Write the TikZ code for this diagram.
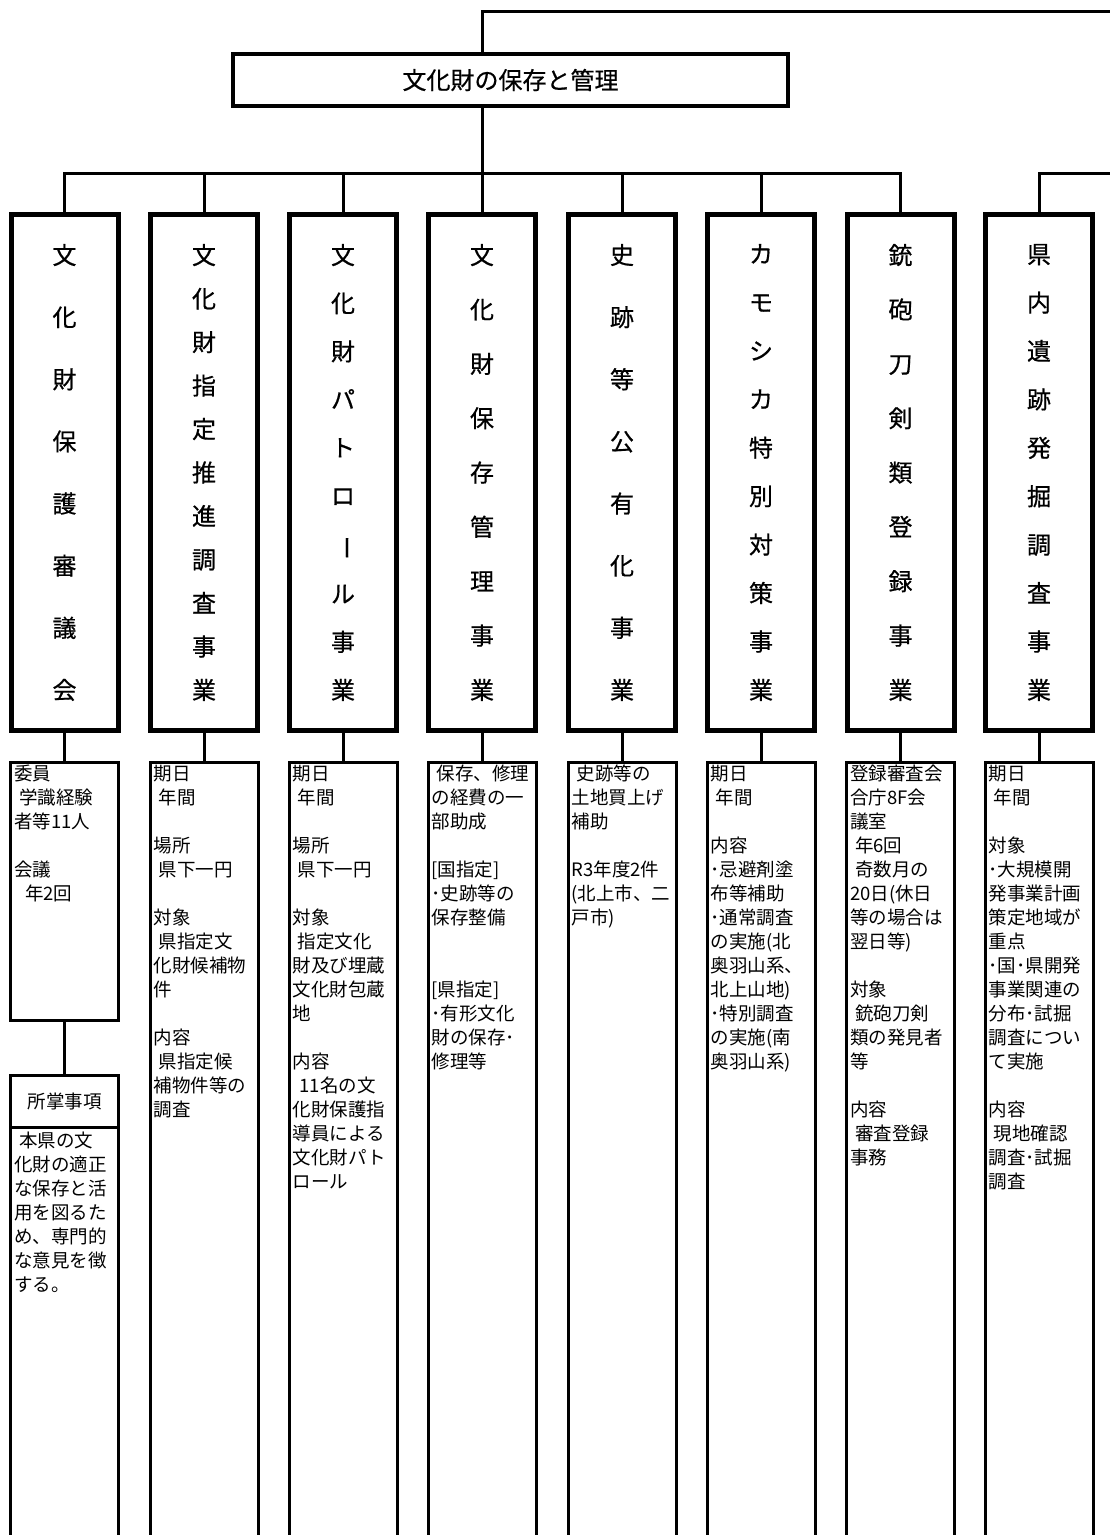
\documentclass[tikz,border=0pt]{standalone}
\usepackage{fontspec}
\setmainfont{Noto Sans CJK JP}
\newfontfamily\hdrfont{Noto Sans CJK JP}[FakeBold=0.6]
\usepackage{graphicx}
\newcommand\V{\par\vfill}
\newcommand\vcol[1]{\parbox[c][455pt][s]{34pt}{\centering #1}}
\newcommand\ind{\hspace*{5pt}}
\newcommand\chouon{\rotatebox[origin=c]{-90}{ー}}
\tikzset{
  conn/.style={line width=3pt},
  topbox/.style={draw, line width=4pt, minimum width=555pt, minimum height=52pt, inner sep=0pt, font=\hdrfont\fontsize{24}{28}\selectfont},
  hdrbox/.style={draw, line width=5pt, minimum width=107pt, minimum height=516pt, inner sep=0pt, font=\hdrfont\fontsize{24}{24}\selectfont},
  detbox/.style={draw, line width=3pt, minimum width=108pt, inner sep=0pt},
  dettext/.style={anchor=north west, align=left, inner sep=0pt, font=\fontsize{18.5}{24}\selectfont},
}
\begin{document}
\begin{tikzpicture}[x=1pt,y=-1pt]
\useasboundingbox (0,0) rectangle (1110,1535);
\clip (0,0) rectangle (1110,1535);
% top box
\node[topbox] (top) at (510.5,80) {文化財の保存と管理};
% header boxes
\node[hdrbox] (h1) at (64.5,472.5) {\vcol{文\V 化\V 財\V 保\V 護\V 審\V 議\V 会}};
\node[hdrbox] (h2) at (204,472.5) {\vcol{文\V 化\V 財\V 指\V 定\V 推\V 進\V 調\V 査\V 事\V 業}};
\node[hdrbox] (h3) at (343,472.5) {\vcol{文\V 化\V 財\V パ\V ト\V ロ\V \chouon\V ル\V 事\V 業}};
\node[hdrbox] (h4) at (482,472.5) {\vcol{文\V 化\V 財\V 保\V 存\V 管\V 理\V 事\V 業}};
\node[hdrbox] (h5) at (622,472.5) {\vcol{史\V 跡\V 等\V 公\V 有\V 化\V 事\V 業}};
\node[hdrbox] (h6) at (761,472.5) {\vcol{カ\V モ\V シ\V カ\V 特\V 別\V 対\V 策\V 事\V 業}};
\node[hdrbox] (h7) at (900.5,472.5) {\vcol{銃\V 砲\V 刀\V 剣\V 類\V 登\V 録\V 事\V 業}};
\node[hdrbox] (h8) at (1039,472.5) {\vcol{県\V 内\V 遺\V 跡\V 発\V 掘\V 調\V 査\V 事\V 業}};
% detail boxes
\node[detbox, minimum height=258pt] (d1) at (64.5,891.5) {};
\node[detbox, minimum height=797.5pt] (d2) at (204,1161.25) {};
\node[detbox, minimum height=797.5pt] (d3) at (343,1161.25) {};
\node[detbox, minimum height=797.5pt] (d4) at (482,1161.25) {};
\node[detbox, minimum height=797.5pt] (d5) at (622,1161.25) {};
\node[detbox, minimum height=797.5pt] (d6) at (761,1161.25) {};
\node[detbox, minimum height=797.5pt] (d7) at (900.5,1161.25) {};
\node[detbox, minimum height=797.5pt] (d8) at (1039,1161.25) {};
\node[detbox, minimum height=52pt, font=\fontsize{18.5}{24}\selectfont] (s1) at (64.5,1101) {所掌事項};
\node[detbox, minimum height=433pt] (s2) at (64.5,1343.5) {};
% connectors
\coordinate (br) at (0,173);
\coordinate (toff) at (1116,11);
\coordinate (roff) at (1116,173);
\draw[conn] (top.north -| h4.north) |- (toff);
\draw[conn] (top.south -| h4.north) -- (h4.north);
\draw[conn] (h1.north) -- (h1.north |- br) -- (h7.north |- br) -- (h7.north);
\foreach \i in {2,3,5,6} \draw[conn] (h\i.north) -- (h\i.north |- br);
\draw[conn] (h8.north) |- (roff);
\foreach \i in {1,...,8} \draw[conn] (h\i.south) -- (d\i.north);
\draw[conn] (d1.south) -- (s1.north);
% texts
\node[dettext] (t1) at (14,765) {委員\\ \ind 学識経験\\ 者等11人\\[24pt] 会議\\ \hspace*{11pt}年2回};
\node[dettext] (t1b) at (14,1132) {\ind 本県の文\\ 化財の適正\\ な保存と活\\ 用を図るた\\ め、専門的\\ な意見を徴\\ する。};
\node[dettext] (t2) at (153.5,765) {期日\\ \ind 年間\\[24pt] 場所\\ \ind 県下一円\\[24pt] 対象\\ \ind 県指定文\\ 化財候補物\\ 件\\[24pt] 内容\\ \ind 県指定候\\ 補物件等の\\ 調査};
\node[dettext] (t3) at (292.5,765) {期日\\ \ind 年間\\[24pt] 場所\\ \ind 県下一円\\[24pt] 対象\\ \ind 指定文化\\ 財及び埋蔵\\ 文化財包蔵\\ 地\\[24pt] 内容\\ \hspace*{7pt}11名の文\\ 化財保護指\\ 導員による\\ 文化財パト\\ ロール};
\node[dettext] (t4) at (431.5,765) {\ind 保存、修理\\ の経費の一\\ 部助成\\[24pt] [国指定]\\ ･史跡等の\\ 保存整備\\[48pt] [県指定]\\ ･有形文化\\ 財の保存･\\ 修理等};
\node[dettext] (t5) at (571.5,765) {\ind 史跡等の\\ 土地買上げ\\ 補助\\[24pt] R3年度2件\\ (北上市、二\\ 戸市)};
\node[dettext] (t6) at (710.5,765) {期日\\ \ind 年間\\[24pt] 内容\\ ･忌避剤塗\\ 布等補助\\ ･通常調査\\ の実施(北\\ 奥羽山系、\\ 北上山地)\\ ･特別調査\\ の実施(南\\ 奥羽山系)};
\node[dettext] (t7) at (850,765) {登録審査会\\ 合庁8F会\\ 議室\\ \ind 年6回\\ \ind 奇数月の\\ 20日(休日\\ 等の場合は\\ 翌日等)\\[24pt] 対象\\ \ind 銃砲刀剣\\ 類の発見者\\ 等\\[24pt] 内容\\ \ind 審査登録\\ 事務};
\node[dettext] (t8) at (988.5,765) {期日\\ \ind 年間\\[24pt] 対象\\ ･大規模開\\ 発事業計画\\ 策定地域が\\ 重点\\ ･国･県開発\\ 事業関連の\\ 分布･試掘\\ 調査につい\\ て実施\\[24pt] 内容\\ \ind 現地確認\\ 調査･試掘\\ 調査};
\end{tikzpicture}
\end{document}
